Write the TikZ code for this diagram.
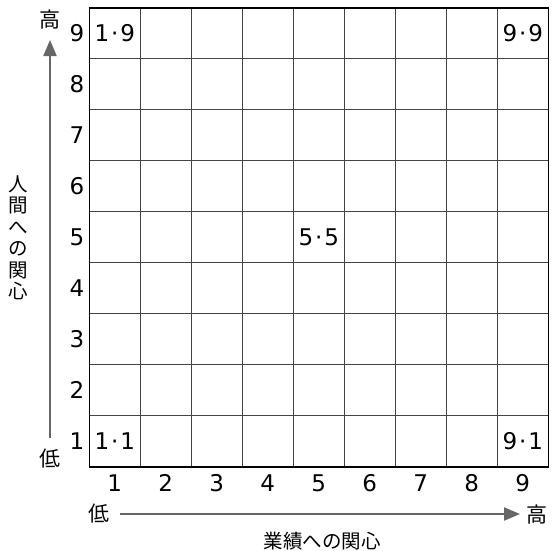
\documentclass[tikz,border=0pt]{standalone}
\usepackage{fontspec}
\setmainfont{DejaVu Sans}
\newfontfamily\jpfont{Noto Sans CJK JP}
\usetikzlibrary{arrows.meta}
\definecolor{axisgray}{HTML}{666666}
\definecolor{gridgray}{HTML}{444444}
\newcommand{\middot}{\kern2pt·\kern2pt}
\tikzset{
  num/.style={inner sep=0pt, font=\fontsize{23}{23}\selectfont},
  jp/.style={inner sep=0pt, font=\jpfont\fontsize{21}{21}\selectfont},
  axisarrow/.style={draw=axisgray, line width=2.2pt, -{Triangle[length=16pt,width=13pt]}, color=axisgray},
}
\begin{document}
\begin{tikzpicture}[x=1pt,y=-1pt]
\useasboundingbox (0,0) rectangle (553,550);
% grid
\foreach \i in {1,...,8} {
  \draw[gridgray, line width=1.5pt] (89.3+51*\i,7.7) -- (89.3+51*\i,466.7);
  \draw[gridgray, line width=1.5pt] (89.3,7.7+51*\i) -- (548.3,7.7+51*\i);
}
\draw[black, line width=1.6pt] (89.3,7.7) rectangle (548.3,466.7);
% row and column numbers
\foreach \i in {1,...,9} {
  \node[num] (r\i) at (77,466.7-51*\i+25.5) {\i};
  \node[num] (c\i) at (89.3+51*\i-25.5,483) {\i};
}
% cell labels
\node[num] (p19) at (114.8,33.2) {1\middot9};
\node[num] (p99) at (522.8,33.2) {9\middot9};
\node[num] (p55) at (318.8,237.2) {5\middot5};
\node[num] (p11) at (114.8,441.2) {1\middot1};
\node[num] (p91) at (522.8,441.2) {9\middot1};
% vertical axis
\node[jp] (vhigh) at (50,20) {高};
\node[jp] (vlow) at (50,459) {低};
\coordinate (vs) at (50,438);
\coordinate (ve) at (50,40);
\draw[axisarrow] (vs) -- (ve);
\node[jp, align=center, font=\jpfont\fontsize{19.5}{21.5}\selectfont] (vlabel) at (18,238) {人\\間\\へ\\の\\関\\心};
% horizontal axis
\node[jp] (hlow) at (99,514) {低};
\node[jp] (hhigh) at (537,514) {高};
\coordinate (hs) at (120,514);
\coordinate (he) at (520,514);
\draw[axisarrow] (hs) -- (he);
\node[jp, font=\jpfont\fontsize{19.5}{19.5}\selectfont] (hlabel) at (322,541) {業績への関心};
\end{tikzpicture}
\end{document}
